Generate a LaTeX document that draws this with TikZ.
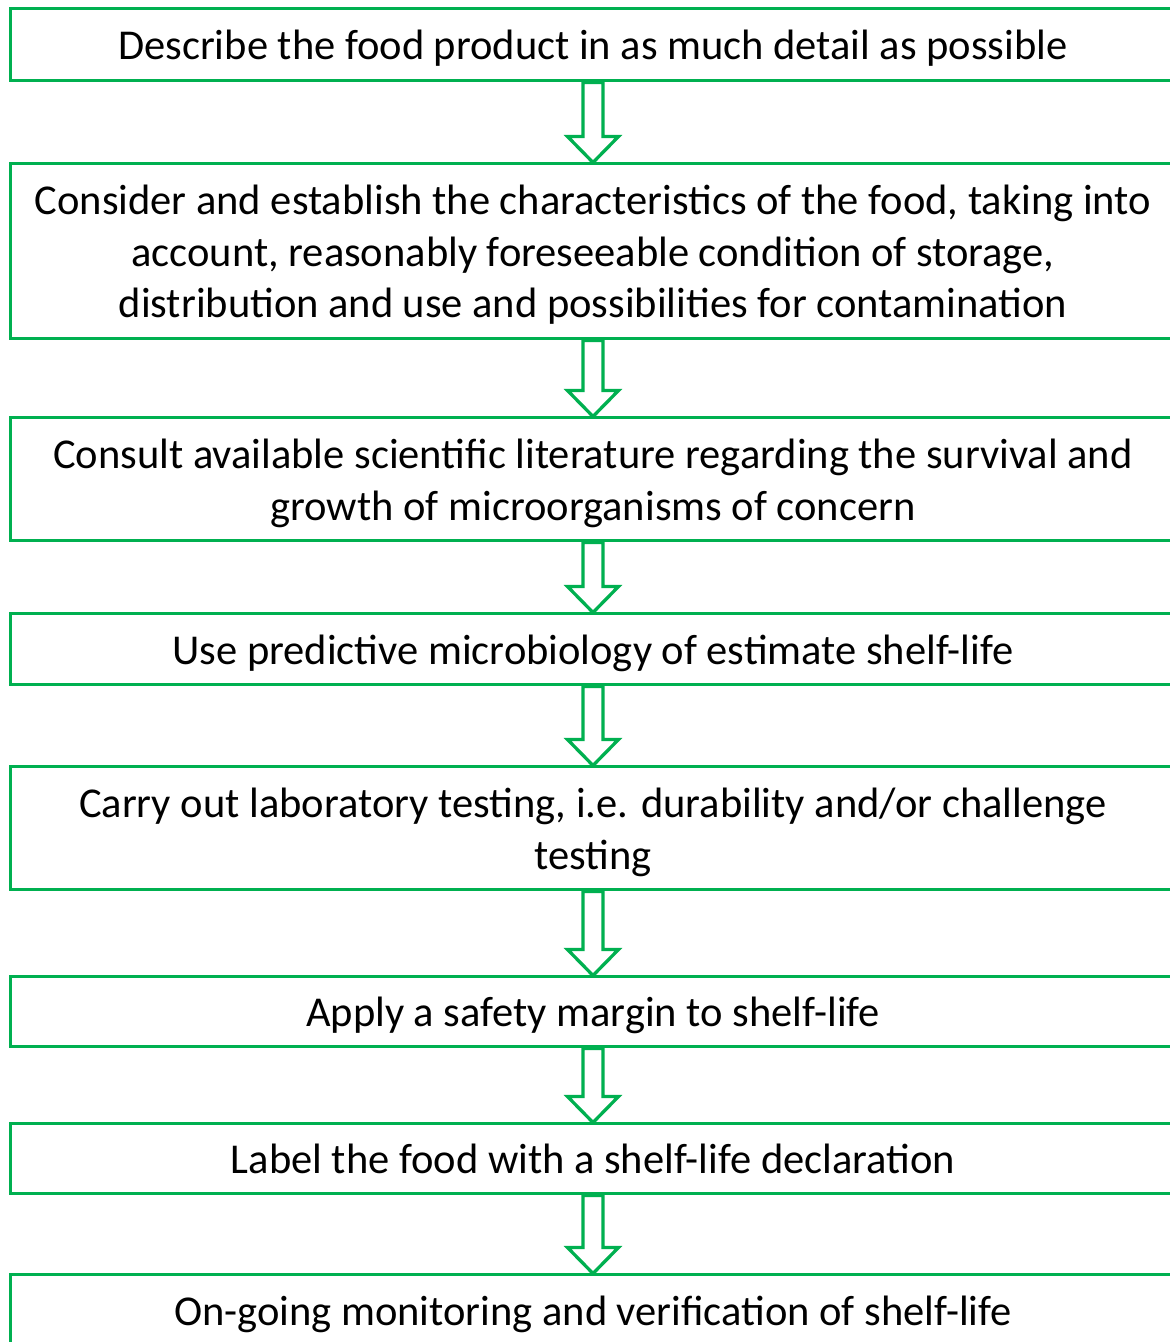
\documentclass[tikz,border=0pt]{standalone}
\usepackage{fontspec}
\setmainfont{Carlito}
\usetikzlibrary{calc}
\definecolor{fgreen}{RGB}{0,176,80}
\newcommand\boxtext[1]{\raisebox{-4.5pt}[\height][\depth]{\begin{tabular}{@{}c@{}}#1\end{tabular}}}
\tikzset{
  stepbox/.style={draw=fgreen, line width=3pt, minimum width=1166pt, inner sep=0pt,
    font=\fontsize{42.5}{51.5}\selectfont, text=black},
  barrow/.style={draw=fgreen, line width=3.3pt, fill=white, line join=miter}
}
\newcommand\blockarrow[2]{%
  \draw[barrow] let \p1=(#1.south), \p2=(#2.north) in
    (\x1-10pt,\y1) -- (\x1+10pt,\y1) -- (\x1+10pt,\y2+26pt) -- (\x1+25.5pt,\y2+26pt)
    -- (\x1,\y2) -- (\x1-25.5pt,\y2+26pt) -- (\x1-10pt,\y2+26pt) -- cycle;}
\begin{document}
\begin{tikzpicture}[x=1pt,y=1pt]
\useasboundingbox (0,0) rectangle (1170,1342);
\clip (0,0) rectangle (1170,1342);
\fill[white] (0,0) rectangle (1170,1342);
\node[stepbox, minimum height=72pt] (b1) at (593,1297) {\boxtext{Describe the food product in as much detail as possible}};
\node[stepbox, minimum height=175pt] (b2) at (593,1090.5) {\boxtext{Consider and establish the characteristics of the food, taking into\\account, reasonably foreseeable condition of storage,\\distribution and use and possibilities for contamination}};
\node[stepbox, minimum height=123pt] (b3) at (593,862.5) {\boxtext{Consult available scientific literature regarding the survival and\\growth of microorganisms of concern}};
\node[stepbox, minimum height=71pt] (b4) at (593,692.5) {\boxtext{Use predictive microbiology of estimate shelf-life}};
\node[stepbox, minimum height=123pt] (b5) at (593,513.5) {\boxtext{Carry out laboratory testing, i.e. durability and/or challenge\\testing}};
\node[stepbox, minimum height=70pt] (b6) at (593,330) {\boxtext{Apply a safety margin to shelf-life}};
\node[stepbox, minimum height=70pt] (b7) at (593,183) {\boxtext{Label the food with a shelf-life declaration}};
\node[stepbox, minimum height=71pt] (b8) at (593,31.5) {\boxtext{On-going monitoring and verification of shelf-life}};
\blockarrow{b1}{b2}
\blockarrow{b2}{b3}
\blockarrow{b3}{b4}
\blockarrow{b4}{b5}
\blockarrow{b5}{b6}
\blockarrow{b6}{b7}
\blockarrow{b7}{b8}
\end{tikzpicture}
\end{document}
